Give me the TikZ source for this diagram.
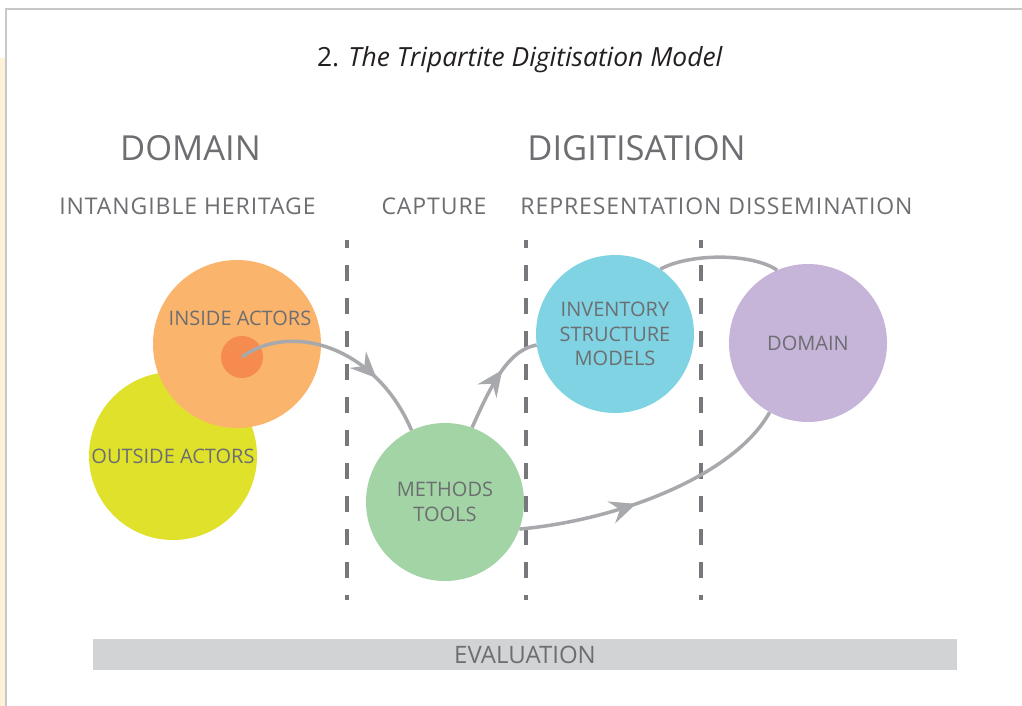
\documentclass[tikz,border=0pt]{standalone}
\usepackage{fontspec}
\setmainfont{Open Sans}
\newfontfamily\spacedfont[LetterSpace=4]{Open Sans}
\usetikzlibrary{arrows.meta,decorations.markings}

\definecolor{textgrey}{HTML}{6D6E71}
\definecolor{titleblack}{HTML}{231F20}
\definecolor{dividergrey}{HTML}{77787B}
\definecolor{flowgrey}{HTML}{A7A9AC}
\definecolor{framegrey}{HTML}{C8C8C8}
\definecolor{marginbeige}{HTML}{FFF1D6}
\definecolor{outsideyellow}{HTML}{DFE12A}
\definecolor{insideorange}{HTML}{FBB46B}
\definecolor{coreorange}{HTML}{F68B4F}
\definecolor{methodsgreen}{HTML}{A2D4A5}
\definecolor{inventoryblue}{HTML}{7FD3E3}
\definecolor{domainpurple}{HTML}{C6B5D9}
\definecolor{evalgrey}{HTML}{D1D3D4}

\begin{document}
\begin{tikzpicture}[x=1pt,y=-1pt,
  titletext/.style={anchor=base,text=titleblack,font=\fontsize{26.4}{30}\selectfont},
  bighead/.style={anchor=base,text=textgrey,font=\fontsize{34.5}{38}\selectfont},
  phasehead/.style={anchor=base,text=textgrey,font=\spacedfont\fontsize{23}{27}\selectfont},
  blob/.style={circle,inner sep=0pt,minimum size=158pt,text=textgrey,align=center,
    font=\fontsize{20}{24.5}\selectfont},
  blobtext/.style={text=textgrey,font=\fontsize{20}{24.5}\selectfont},
  divider/.style={draw=dividergrey,line width=4.5pt,dash pattern=on 16pt off 17pt,dash phase=8pt},
  flow/.style={draw=flowgrey,line width=3.5pt},
  midarrow/.style={postaction={decorate},decoration={markings,
    mark=at position #1 with {\arrow[flowgrey]{Stealth[length=26pt,width=23pt,inset=9pt]}}}},
  evalbar/.style={fill=evalgrey,minimum width=864pt,minimum height=31pt,inner sep=0pt,
    text=textgrey,font=\fontsize{24}{28}\selectfont}
]
\useasboundingbox (0,0) rectangle (1022,706);
\fill[white] (0,0) rectangle (1022,706);

% page margin and frame
\fill[marginbeige] (0,58) rectangle (5,706);
\draw[framegrey,line width=2pt] (6,706) -- (6,9) -- (1022,9);

% headings
\node[titletext] (title) at (520,67) {2. \textit{The Tripartite Digitisation Model}};
\node[bighead] (domainhead) at (190.5,160) {DOMAIN};
\node[bighead] (digihead) at (636.5,160) {DIGITISATION};
\node[phasehead] (heritage) at (187.5,214) {INTANGIBLE HERITAGE};
\node[phasehead] (capture) at (434,214) {CAPTURE};
\node[phasehead] (represent) at (716.5,214) {REPRESENTATION DISSEMINATION};

% phase dividers
\coordinate (d1top) at (347,240); \coordinate (d1bot) at (347,600);
\coordinate (d2top) at (526,240); \coordinate (d2bot) at (526,600);
\coordinate (d3top) at (701,240); \coordinate (d3bot) at (701,600);
\draw[divider] (d1top) -- (d1bot);
\draw[divider] (d2top) -- (d2bot);
\draw[divider] (d3top) -- (d3bot);

% actors
\node[blob,fill=outsideyellow,minimum size=168pt] (outside) at (173,456) {OUTSIDE ACTORS};
\node[blob,fill=insideorange,minimum size=168pt] (inside) at (237,344) {};
\node[blobtext] (insidelabel) at (240,318) {INSIDE ACTORS};
\node[circle,inner sep=0pt,minimum size=42pt,fill=coreorange] (core) at (242,357) {};

% digitisation stages
\node[blob,fill=methodsgreen] (methods) at (445,502) {METHODS\\TOOLS};
\node[blob,fill=inventoryblue] (inventory) at (615,334) {INVENTORY\\STRUCTURE\\MODELS};
\node[blob,fill=domainpurple] (domain) at (808,343) {DOMAIN};

% flows
\draw[flow,midarrow=0.7] (core.center) .. controls (290,322) and (375,345) .. (methods.115);
\draw[flow,midarrow=0.6] (methods.70) .. controls (494,378) and (510,350) .. (inventory.188);
\draw[flow] (inventory.55) .. controls (690,253) and (752,253) .. (domain.113);
\draw[flow,midarrow=0.42] (methods.-20) .. controls (620,520) and (735,475) .. (domain.241);

% evaluation band
\node[evalbar] (evaluation) at (525,654.5) {EVALUATION};
\end{tikzpicture}
\end{document}
